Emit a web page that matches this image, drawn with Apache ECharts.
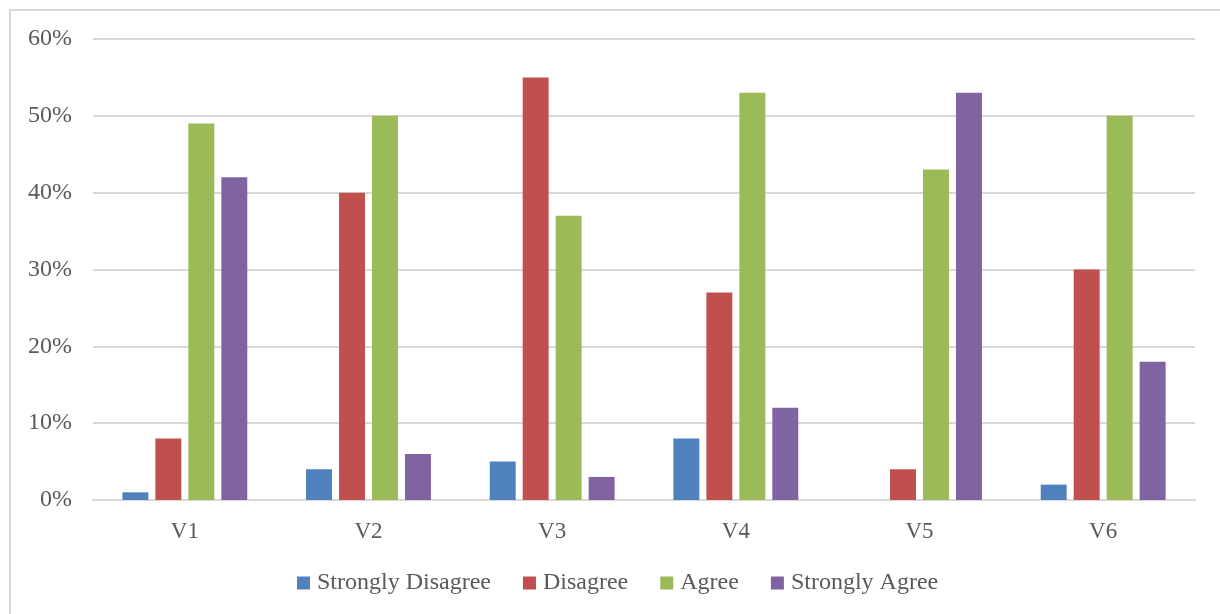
<!DOCTYPE html>
<html>
<head>
<meta charset="utf-8">
<script src="https://cdn.jsdelivr.net/npm/echarts@6/dist/echarts.min.js"></script>
<style>
html,body{margin:0;padding:0;background:#fff;overflow:hidden;}
#c{width:1220px;height:614px;}
</style>
</head>
<body>
<div id="c"></div>
<script>
const categories = ['V1','V2','V3','V4','V5','V6'];
const stronglyDisagree = [1, 4, 5, 8, 0, 2];
const disagree = [8, 40, 55, 27, 4, 30];
const agree = [49, 50, 37, 53, 43, 50];
const stronglyAgree = [42, 6, 3, 12, 53, 18];
const seriesNames = ['Strongly Disagree','Disagree','Agree','Strongly Agree'];
const colors = ['#4F81BD','#C0504D','#9BBB59','#8064A2'];
const yTicks = [0,10,20,30,40,50,60];

const font = 'Liberation Serif, Times New Roman, serif';
const chart = echarts.init(document.getElementById('c'));
const data = [stronglyDisagree, disagree, agree, stronglyAgree];
chart.setOption({
  animation:false,
  color:colors,
  graphic:[{type:'rect',shape:{x:10,y:10,width:1400,height:800},style:{fill:'none',stroke:'#d9d9d9',lineWidth:2},silent:true}],
  grid:{left:93,right:25,top:39,bottom:114},
  legend:{
    data:seriesNames, top:571, left:297, padding:0,
    itemWidth:13,itemHeight:13,itemGap:32,icon:'rect',
    textStyle:{fontFamily:font,fontSize:24,color:'#595959',padding:[0,0,0,2]}
  },
  xAxis:{
    type:'category',data:categories,
    axisLine:{lineStyle:{color:'#d9d9d9',width:2}},
    axisTick:{show:false},
    axisLabel:{fontFamily:font,fontSize:23,color:'#595959',margin:20}
  },
  yAxis:{
    type:'value',min:yTicks[0],max:yTicks[yTicks.length-1],interval:10,
    axisLine:{show:false},axisTick:{show:false},
    splitLine:{lineStyle:{color:'#d9d9d9',width:2}},
    axisLabel:{fontFamily:font,fontSize:24,color:'#595959',margin:21,formatter:'{value}%'}
  },
  series:seriesNames.map((n,i)=>({
    name:n,type:'bar',data:data[i],
    barGap:'27%',barCategoryGap:'32%'
  }))
});
</script>
</body>
</html>
